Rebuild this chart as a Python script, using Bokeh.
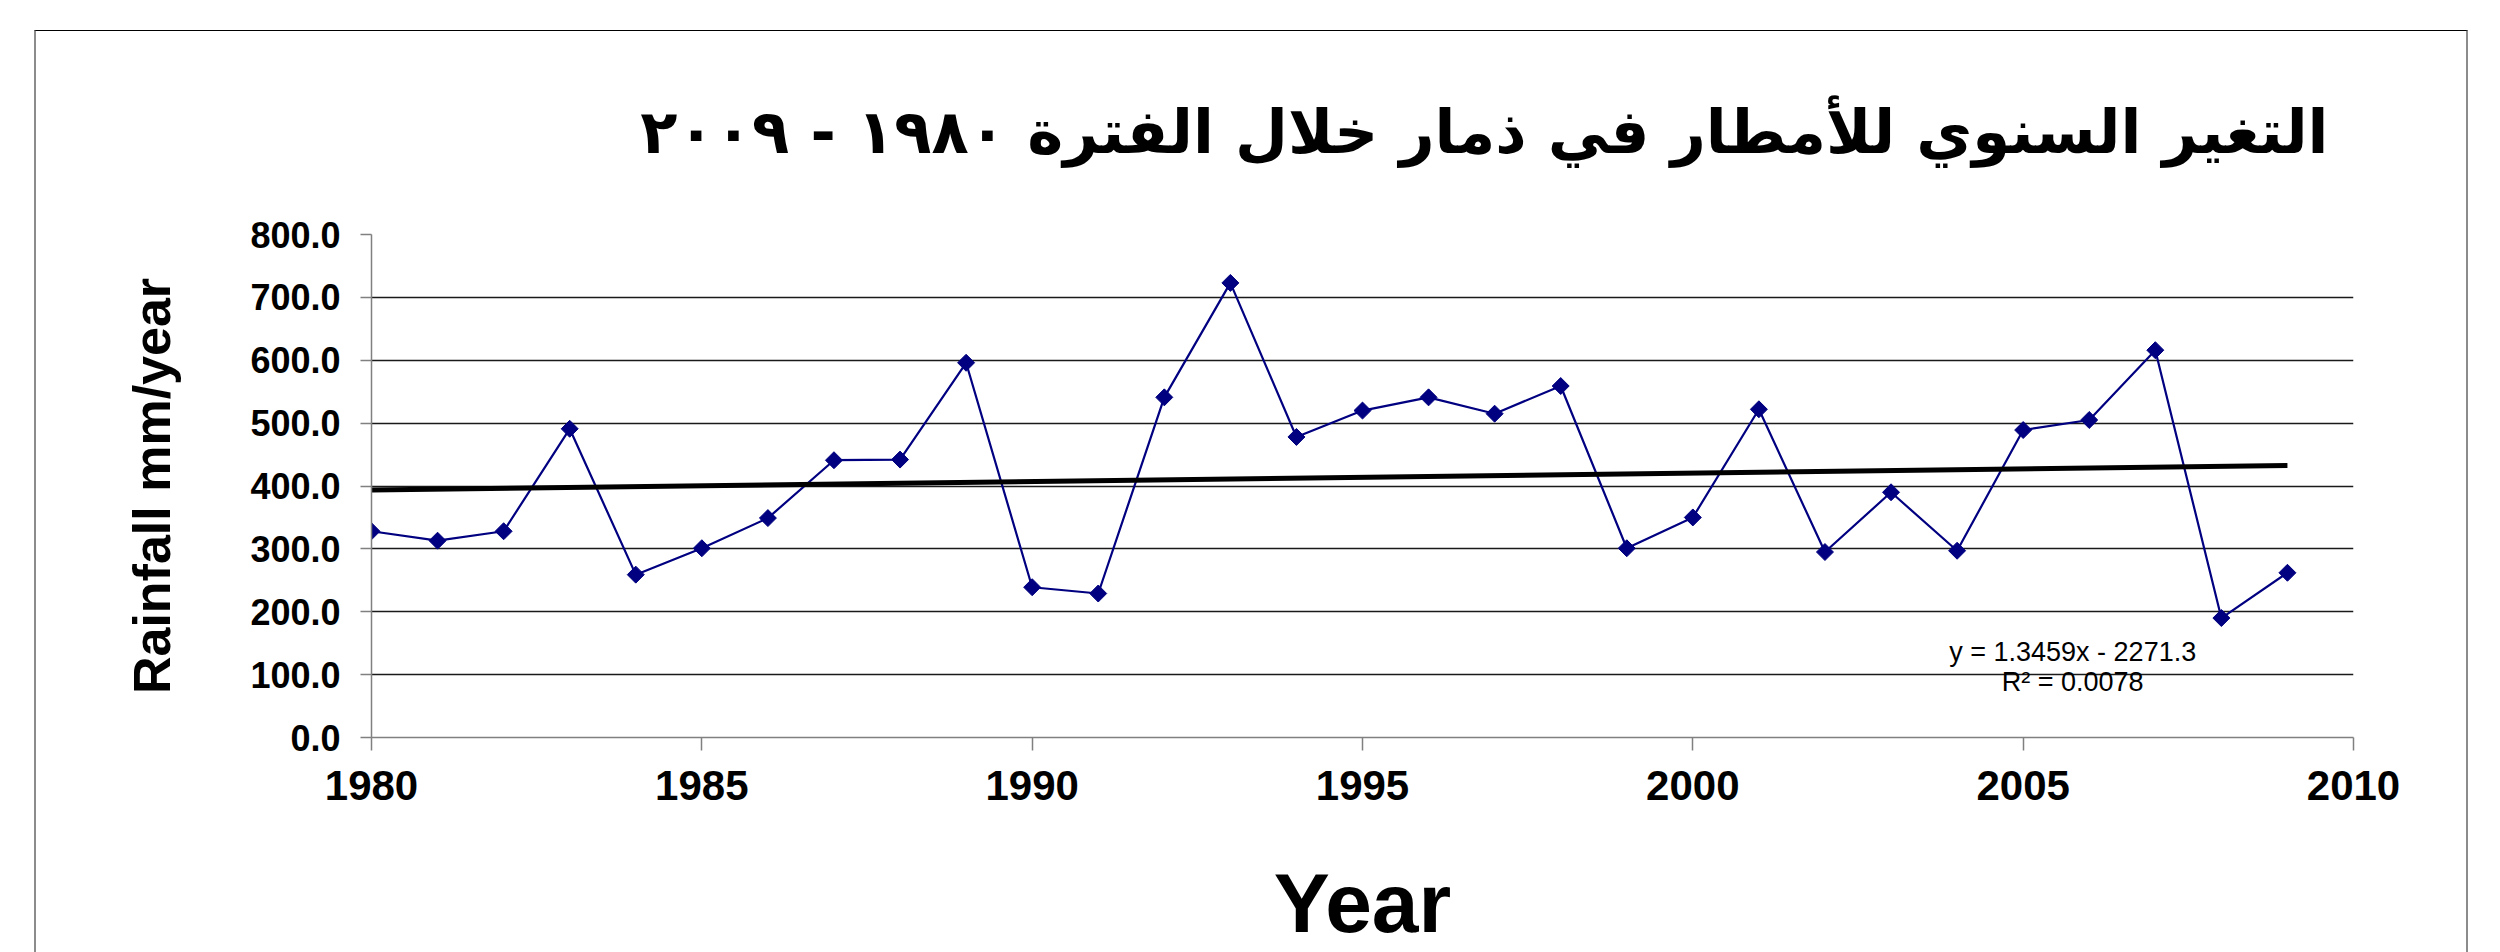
import numpy as np
from bokeh.plotting import figure
from bokeh.models import (ColumnDataSource, FixedTicker, NumeralTickFormatter, Label,
                          Range1d, InlineStyleSheet)
from bokeh.embed import file_html
from bokeh.resources import INLINE

# ---------------- data ----------------
years = [1980, 1981, 1982, 1983, 1984, 1985, 1986, 1987, 1988, 1989,
         1990, 1991, 1992, 1993, 1994, 1995, 1996, 1997, 1998, 1999,
         2000, 2001, 2002, 2003, 2004, 2005, 2006, 2007, 2008, 2009]
rainfall = [328, 313, 328, 491, 259, 301, 349, 441, 442, 596,
            239, 229, 541, 723, 478, 520, 541, 515, 559, 301,
            350, 522, 295, 390, 297, 489, 505, 616, 190, 262]
trend_slope = 1.3459
trend_intercept = -2271.3
trend_r2 = 0.0078
x_ticks = [1980, 1985, 1990, 1995, 2000, 2005, 2010]
y_ticks = [0, 100, 200, 300, 400, 500, 600, 700, 800]
title_text = "التغير السنوي للأمطار في ذمار خلال الفترة ١٩٨٠ - ٢٠٠٩"
x_label = "Year"
y_label = "Rainfall mm/year"
eq_text = f"y = {trend_slope}x - {abs(trend_intercept)}"
r2_text = f"R² = {trend_r2}"

# ---------------- figure ----------------
W, H = 2484, 952
p = figure(width=W, height=H, output_backend="svg", toolbar_location=None,
           x_range=Range1d(x_ticks[0], x_ticks[-1]), y_range=Range1d(y_ticks[0], y_ticks[-1]),
           min_border_left=371, min_border_right=131, min_border_top=234, min_border_bottom=214,
           background_fill_color="white", border_fill_color="white")
p.outline_line_color = None

# outer chart frame (decorative border of the chart area)
p.stylesheets = [InlineStyleSheet(css="""
:host::after {
  content: "";
  position: fixed;
  left: 34px; top: 30px; width: 2430px; height: 1200px;
  border-top: 1.5px solid #000000;
  border-left: 2.5px solid #8c8c8c;
  border-right: 2.5px solid #8c8c8c;
  pointer-events: none;
}
""")]

# title
p.title.text = title_text
p.title.text_font = "DejaVu Sans"
p.title.text_font_style = "bold"
p.title.text_font_size = "61px"
p.title.align = "right"
p.title.offset = 25
p.title.standoff = 135
p.title.text_color = "black"

# axes
for ax in (p.xaxis, p.yaxis):
    ax.axis_line_color = "#808080"
    ax.axis_line_width = 1.5
    ax.major_tick_line_color = "#808080"
    ax.major_tick_line_width = 1.5
    ax.major_tick_in = 0
    ax.minor_tick_line_color = None
    ax.major_label_text_font = "Liberation Sans"
    ax.major_label_text_font_style = "bold"
    ax.major_label_text_color = "black"
    ax.axis_label_text_color = "black"
    ax.axis_label_text_font_style = "bold"
    ax.axis_label_text_font = "Liberation Sans"

p.xaxis.ticker = FixedTicker(ticks=x_ticks)
p.xaxis.major_tick_out = 13
p.xaxis.major_label_standoff = 20
p.xaxis.major_label_text_font_size = "42px"
p.xaxis.axis_label = x_label
p.xaxis.axis_label_text_font_size = "84px"
p.xaxis.axis_label_standoff = 53

p.yaxis.ticker = FixedTicker(ticks=y_ticks)
p.yaxis.formatter = NumeralTickFormatter(format="0.0")
p.yaxis.major_tick_out = 11
p.yaxis.major_label_standoff = 20
p.yaxis.major_label_text_font_size = "36px"
p.yaxis.axis_label = y_label
p.yaxis.axis_label_text_font_size = "52px"
p.yaxis.axis_label_standoff = 66

# grid
p.xgrid.grid_line_color = None
p.ygrid.ticker = FixedTicker(ticks=y_ticks)
p.ygrid.grid_line_color = "#1a1a1a"
p.ygrid.grid_line_width = 1.3

# data
src = ColumnDataSource(dict(x=years, y=rainfall))
p.line("x", "y", source=src, line_color="#000080", line_width=2.2)
p.scatter("x", "y", source=src, marker="square", angle=np.pi / 4, size=12,
          fill_color="#000080", line_color="#000080")

# trend line
tx = [years[0], years[-1]]
ty = [trend_slope * v + trend_intercept for v in tx]
p.line(tx, ty, line_color="black", line_width=5)

# equation labels
eq_x = 2005.75
p.add_layout(Label(x=eq_x, y=136, text=eq_text, text_align="center", text_baseline="middle",
                   text_font="Liberation Sans", text_font_size="27px", text_color="black"))
p.add_layout(Label(x=eq_x, y=89, text=r2_text, text_align="center", text_baseline="middle",
                   text_font="Liberation Sans", text_font_size="27px", text_color="black"))

open("out.html", "w").write(file_html(p, INLINE))
